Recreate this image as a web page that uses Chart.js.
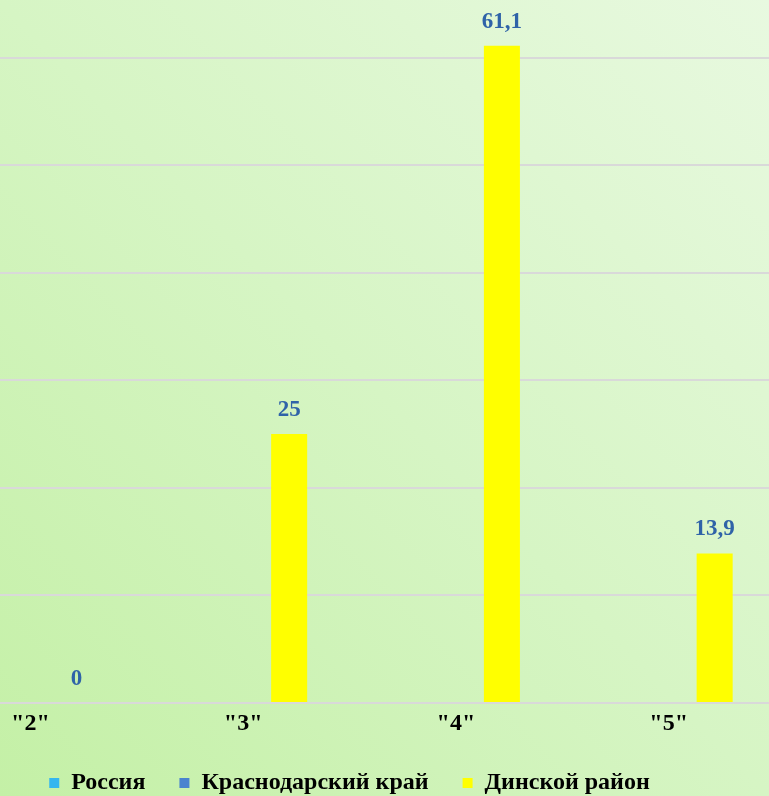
<!DOCTYPE html>
<html>
<head>
<meta charset="utf-8">
<script src="https://cdn.jsdelivr.net/npm/chart.js@4"></script>
<style>
  html, body {
    margin: 0;
    padding: 0;
    width: 769px;
    height: 796px;
    overflow: hidden;
  }
  body {
    position: relative;
    background: linear-gradient(to top right, #c4f0a6 0%, #d6f5c4 50%, #e8f9e0 100%);
  }
  #chart {
    position: absolute;
    left: -76px;
    top: -50px;
  }
</style>
</head>
<body>
<canvas id="chart" width="851" height="855"></canvas>
<script>
const categories = ['"2"', '"3"', '"4"', '"5"'];
const seriesNames = ['Россия', 'Краснодарский край', 'Динской район'];
const russia = [null, null, null, null];
const krai = [null, null, null, null];
const dinskoy = [0, 25, 61.1, 13.9];
const seriesColors = ['#35b6ef', '#4a84cf', '#ffff00'];

const FONT = '"Liberation Serif", "Times New Roman", serif';

// подписи значений над столбцами
const valueLabels = {
    id: 'valueLabels',
    afterDatasetsDraw(chart) {
        const ctx = chart.ctx;
        ctx.save();
        ctx.font = 'bold 23px ' + FONT;
        ctx.fillStyle = '#2f63a8';
        ctx.textAlign = 'center';
        ctx.textBaseline = 'middle';
        chart.data.datasets.forEach((ds, i) => {
            const meta = chart.getDatasetMeta(i);
            meta.data.forEach((bar, j) => {
                const v = ds.data[j];
                if (v === null || v === undefined) return;
                ctx.fillText(String(v).replace('.', ','), bar.x, bar.y - 24);
            });
        });
        ctx.restore();
    }
};

const ctx = document.getElementById('chart').getContext('2d');
new Chart(ctx, {
    type: 'bar',
    data: {
        labels: categories,
        datasets: [
            { label: seriesNames[0], data: russia, backgroundColor: seriesColors[0] },
            { label: seriesNames[1], data: krai, backgroundColor: seriesColors[1] },
            { label: seriesNames[2], data: dinskoy, backgroundColor: seriesColors[2] }
        ]
    },
    options: {
        responsive: false,
        animation: false,
        categoryPercentage: 0.649,
        barPercentage: 0.783,
        layout: { padding: 0 },
        scales: {
            x: {
                grid: { display: false, drawTicks: false },
                border: { display: true, color: '#d9d9d9', width: 2 },
                ticks: {
                    color: '#000',
                    padding: 6,
                    font: { family: FONT, size: 24, weight: 'bold' }
                },
                afterFit(scale) { scale.height = 34; }
            },
            y: {
                min: 0,
                max: 70,
                grid: { color: '#d9d9d9', lineWidth: 2, drawTicks: false },
                border: { display: false },
                ticks: { display: false, stepSize: 10 }
            }
        },
        plugins: {
            tooltip: { enabled: false },
            legend: {
                position: 'bottom',
                labels: {
                    color: '#000',
                    boxWidth: 10,
                    boxHeight: 10,
                    padding: 34,
                    font: { family: FONT, size: 24, weight: 'bold' }
                }
            }
        }
    },
    plugins: [valueLabels]
});
</script>
</body>
</html>
